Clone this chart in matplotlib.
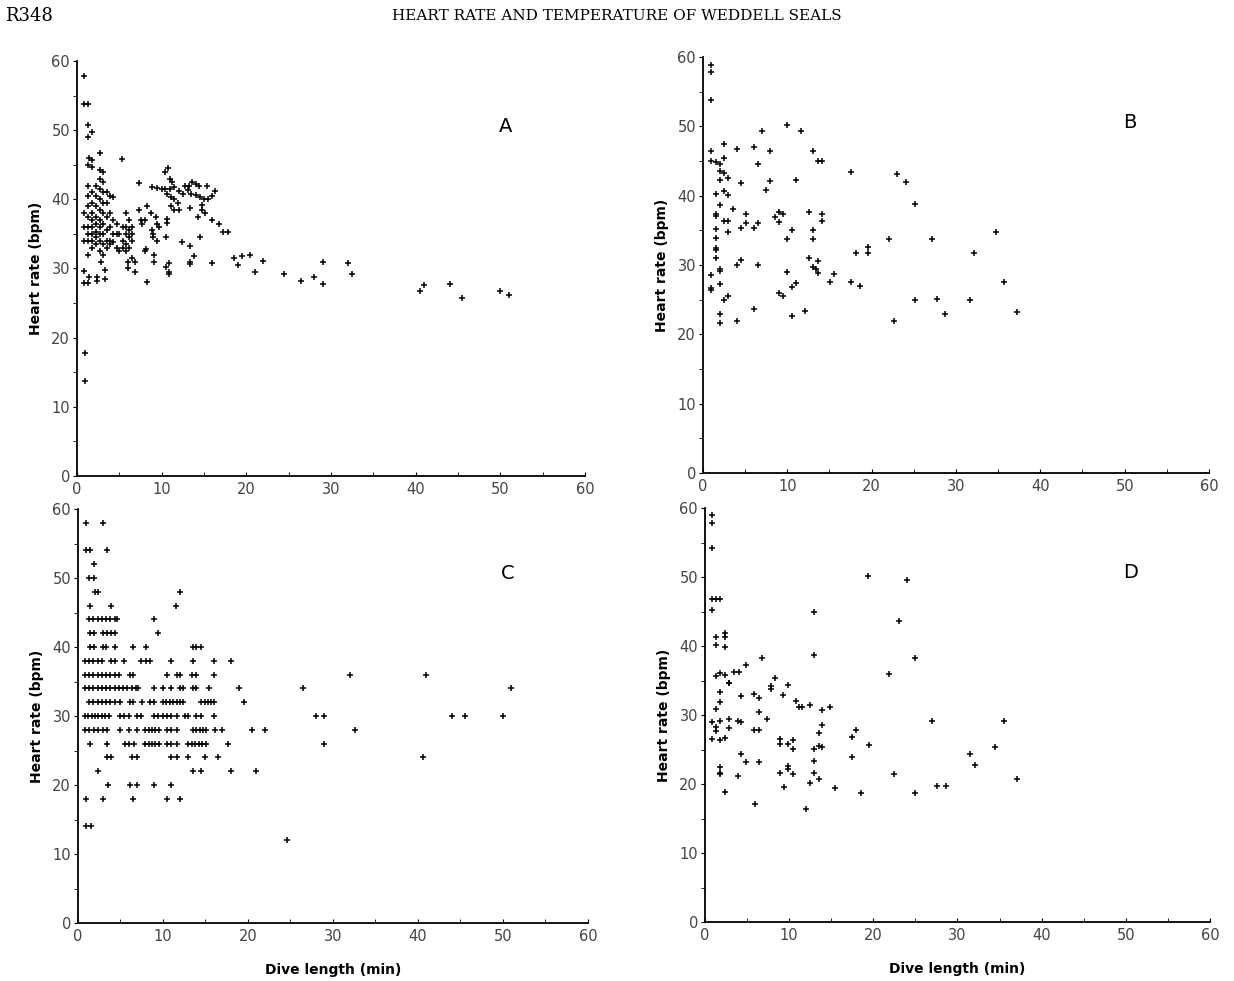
import matplotlib.pyplot as plt
from matplotlib.ticker import MultipleLocator

# Panel A: dive length (min) vs heart rate (bpm)
a_x = [0.8, 0.8, 1.3, 1.3, 1.3, 1.8, 1.4, 1.3, 1.8, 1.8, 2.7, 5.3, 7.3, 0.9, 0.9,
       0.8, 0.8, 1.3, 1.4, 2.4, 2.4, 3.3, 3.3, 1.3, 2.8,
       0.8, 0.8, 0.8, 1.3, 1.3, 1.3, 1.3, 1.3, 1.3, 1.3,
       1.8, 1.8, 1.8, 1.8, 1.8, 1.8, 1.8, 1.8,
       2.2, 2.2, 2.2, 2.2, 2.2, 2.2, 2.2, 2.2,
       2.7, 2.7, 2.7, 2.7, 2.7, 2.7, 2.7, 2.7, 2.7, 2.7,
       3.1, 3.1, 3.1, 3.1, 3.1, 3.1, 3.1, 3.1, 3.1,
       3.5, 3.5, 3.5, 3.5, 3.5, 3.5, 3.9, 3.9, 3.9, 3.9, 3.9,
       4.3, 4.3, 4.3, 4.3, 4.7, 4.7, 4.7, 5.0, 5.0, 5.4, 5.4, 5.4,
       5.8, 5.8, 5.8, 5.8, 5.8, 6.2, 6.2, 6.2, 6.2, 6.5, 6.5, 6.5, 6.5,
       6.0, 6.0, 6.8, 6.8, 7.3, 7.6, 7.7, 8.0, 8.0, 8.2, 8.3, 8.3, 8.7,
       8.9, 9.0, 9.0, 9.1, 9.1, 9.5, 9.5, 9.7, 9.3,
       8.9, 9.4, 10.0, 10.4, 10.4, 10.8, 11.0, 11.2, 11.0, 11.5, 12.0, 12.5,
       10.6, 11.1, 11.5, 11.9, 11.1, 11.5, 12.0, 10.6, 10.6, 12.7, 13.2, 13.6,
       14.0, 14.4, 15.3, 13.1, 13.5, 14.0, 14.5, 15.0, 15.5, 15.9, 16.3, 14.8,
       14.8, 15.1, 14.3, 13.3, 12.4, 13.3, 13.3, 13.3, 13.8, 14.5, 15.9, 15.9,
       16.8, 17.8, 17.3, 18.5, 19.0, 19.5, 20.4, 21.0, 22.0,
       10.5, 10.5, 10.9, 10.9, 10.9,
       24.5, 26.4, 28.0, 29.0, 29.0, 32.0, 32.5, 40.5, 41.0, 44.0, 45.5, 50.0, 51.0]
a_y = [57.9, 53.8, 53.8, 50.8, 49.0, 49.7, 46.0, 44.9, 44.7, 45.7, 46.7, 45.9, 42.3, 13.8, 17.8,
       29.7, 27.9, 27.9, 28.8, 28.7, 28.2, 29.8, 28.5, 31.9, 31.0,
       38.0, 36.0, 34.0, 42.0, 40.5, 39.0, 37.5, 36.0, 35.0, 34.0,
       41.0, 39.5, 38.0, 37.0, 36.0, 35.0, 34.0, 33.0,
       42.0, 40.5, 39.0, 37.5, 36.5, 35.3, 34.5, 33.5,
       44.3, 43.0, 41.5, 40.0, 38.5, 37.0, 36.0, 35.0, 34.0, 32.5,
       44.0, 42.5, 41.0, 39.5, 38.0, 36.5, 35.0, 33.5, 32.0,
       41.0, 39.5, 37.5, 35.5, 34.0, 33.0, 40.5, 38.0, 36.0, 34.0, 33.5,
       40.3, 37.0, 35.0, 33.8, 36.5, 35.0, 33.0, 35.0, 32.5, 36.0, 34.0, 33.0,
       38.0, 36.0, 35.0, 33.5, 32.5, 37.0, 35.5, 34.5, 33.0, 36.0, 35.0, 34.0, 31.5,
       31.0, 30.0, 31.0, 29.5, 38.5, 37.0, 36.5, 37.0, 32.6, 32.8, 39.0, 28.0, 38.0,
       35.5, 35.0, 34.5, 32.0, 31.0, 34.0, 36.5, 36.0, 37.5,
       41.8, 41.6, 41.5, 41.5, 44.0, 44.5, 43.0, 42.5, 41.5, 41.8, 41.2, 40.8,
       40.8, 40.3, 40.0, 39.5, 39.0, 38.5, 38.5, 37.2, 36.6, 42.0, 42.0, 42.5,
       42.2, 41.9, 41.9, 41.3, 40.8, 40.6, 40.3, 40.0, 40.0, 40.5, 41.2, 39.2,
       38.4, 38.0, 37.5, 38.7, 33.8, 33.2, 31.0, 30.6, 31.8, 34.5, 37.0, 30.8,
       36.4, 35.3, 35.3, 31.5, 30.5, 31.8, 32.0, 29.5, 31.1,
       34.5, 30.2, 30.8, 29.5, 29.2,
       29.2, 28.2, 28.8, 31.0, 27.7, 30.8, 29.2, 26.7, 27.6, 27.8, 25.8, 26.8, 26.2]

# Panel B
b_x = [1.0, 1.0, 0.9, 1.0, 2.5, 4.0, 6.0, 8.0, 7.0, 10.0, 11.6, 13.1, 13.6, 14.1,
       1.0, 1.5, 2.0, 2.5, 2.0, 2.5, 3.0, 2.0, 4.5, 6.5, 8.0, 7.5, 1.5, 2.5, 3.0,
       11.0, 17.5, 23.0, 24.1, 25.1, 2.0, 1.5, 1.5, 3.5, 5.1, 2.5, 3.0, 4.5, 5.1,
       6.0, 6.5, 8.5, 9.0, 9.5, 9.0, 12.6, 14.1, 14.1, 10.6, 13.1, 3.0, 1.5, 1.5,
       10.0, 13.1, 22.1, 27.1, 34.7, 1.5, 1.5, 1.5, 2.0, 2.0, 1.0, 4.0, 4.5, 6.5,
       12.6, 13.1, 13.4, 13.6, 13.6, 15.5, 15.1, 18.1, 19.6, 19.6, 10.0, 32.1,
       1.0, 1.0, 2.0, 2.5, 3.0, 9.0, 9.5, 10.6, 11.0, 17.5, 18.6, 35.7, 25.1, 27.7,
       31.7, 2.0, 2.0, 4.0, 6.0, 10.6, 12.1, 22.6, 28.7, 37.2]
b_y = [58.8, 57.8, 53.8, 46.5, 47.5, 46.8, 47.0, 46.5, 49.4, 50.2, 49.4, 46.4, 45.0, 45.0,
       45.0, 44.8, 44.6, 45.4, 43.5, 43.3, 42.6, 42.2, 41.8, 44.6, 42.1, 40.9, 40.2, 40.7, 40.1,
       42.2, 43.4, 43.1, 42.0, 38.8, 38.6, 37.4, 37.1, 38.1, 37.3, 36.4, 36.4, 35.4, 36.1,
       35.4, 36.1, 36.9, 37.6, 37.4, 36.2, 37.6, 37.4, 36.4, 35.1, 35.1, 34.7, 35.2, 33.9,
       33.8, 33.8, 33.8, 33.7, 34.7, 32.5, 32.2, 31.0, 29.4, 29.1, 28.6, 30.0, 30.8, 30.0,
       31.0, 29.7, 29.5, 30.6, 28.9, 28.7, 27.5, 31.7, 32.6, 31.7, 29.0, 31.7,
       26.7, 26.4, 27.3, 24.9, 25.5, 26.0, 25.6, 26.9, 27.4, 27.5, 27.0, 27.5, 24.9, 25.1,
       24.9, 23.0, 21.6, 22.0, 23.6, 22.6, 23.4, 22.0, 23.0, 23.3]

# Panel C (heart rate recorded in 2 bpm steps)
c_x = [0.9, 2.9,
       0.9, 1.4, 3.4,
       1.9,
       1.3, 1.9,
       2.0, 2.4, 12.0,
       1.4, 3.9, 11.5,
       1.3, 1.8, 2.3, 2.8, 3.3, 3.8, 4.3, 4.6, 8.9,
       1.4, 1.9, 2.9, 3.4, 3.9, 4.4, 9.4,
       1.4, 1.9, 2.9, 3.3, 4.4, 6.5, 8.0, 13.5, 13.9, 14.5,
       0.8, 1.3, 1.8, 2.3, 2.8, 3.9, 4.4, 5.4, 7.4, 8.0, 8.5, 11.0, 13.5, 16.0, 18.0,
       0.8, 1.3, 1.8, 2.3, 2.8, 3.3, 3.8, 4.3, 4.8, 6.1, 6.5, 10.5, 11.6, 12.0, 13.4, 13.9, 16.0,
       0.8, 1.3, 1.8, 2.3, 2.8, 3.3, 3.8, 4.3, 4.8, 5.3, 5.8, 6.3, 6.8, 7.1,
       8.9, 10.0, 11.0, 12.0, 12.4, 13.5, 13.9, 15.4, 19.0, 26.5, 51.0,
       1.3, 1.8, 2.3, 2.8, 3.3, 3.8, 4.3, 4.9, 6.1, 6.5, 7.5, 8.5, 8.9,
       10.0, 10.4, 10.8, 11.2, 11.6, 12.0, 12.4, 14.5, 14.9, 15.3, 15.7, 16.0, 19.5,
       0.8, 1.2, 1.6, 2.0, 2.4, 2.8, 3.2, 3.7, 4.9, 5.4, 6.0, 6.9, 7.4, 8.9, 9.4, 10.0,
       10.5, 11.0, 11.6, 12.6, 13.0, 13.9, 14.5, 16.0, 28.0, 29.0, 44.0, 45.5, 50.0,
       0.8, 1.3, 1.9, 2.4, 2.9, 3.4, 5.0, 6.0, 6.9, 7.9, 8.3, 8.7, 9.1, 9.5,
       10.5, 11.0, 11.6, 13.5, 13.9, 14.3, 14.7, 15.1, 16.1, 17.0, 20.5, 22.0, 32.6,
       1.4, 3.4, 5.5, 6.0, 6.6, 7.9, 8.3, 8.7, 9.1, 9.5, 10.5, 11.0, 11.6,
       13.0, 13.4, 13.8, 14.2, 14.6, 15.1, 17.6, 29.0,
       3.4, 3.9, 6.4, 6.9, 11.0, 11.6, 13.0, 15.0, 16.5, 40.6,
       2.4, 13.5, 14.5, 18.0, 21.0,
       3.5, 6.1, 7.0, 8.9, 11.0,
       1.0, 2.9, 6.5, 10.5, 12.0,
       1.0, 1.5, 24.6, 32.0, 41.0]
c_y = [58, 58,
       54, 54, 54,
       52,
       50, 50,
       48, 48, 48,
       46, 46, 46,
       44, 44, 44, 44, 44, 44, 44, 44, 44,
       42, 42, 42, 42, 42, 42, 42,
       40, 40, 40, 40, 40, 40, 40, 40, 40, 40,
       38, 38, 38, 38, 38, 38, 38, 38, 38, 38, 38, 38, 38, 38, 38,
       36, 36, 36, 36, 36, 36, 36, 36, 36, 36, 36, 36, 36, 36, 36, 36, 36,
       34, 34, 34, 34, 34, 34, 34, 34, 34, 34, 34, 34, 34, 34,
       34, 34, 34, 34, 34, 34, 34, 34, 34, 34, 34,
       32, 32, 32, 32, 32, 32, 32, 32, 32, 32, 32, 32, 32,
       32, 32, 32, 32, 32, 32, 32, 32, 32, 32, 32, 32, 32,
       30, 30, 30, 30, 30, 30, 30, 30, 30, 30, 30, 30, 30, 30, 30, 30,
       30, 30, 30, 30, 30, 30, 30, 30, 30, 30, 30, 30, 30,
       28, 28, 28, 28, 28, 28, 28, 28, 28, 28, 28, 28, 28, 28,
       28, 28, 28, 28, 28, 28, 28, 28, 28, 28, 28, 28, 28,
       26, 26, 26, 26, 26, 26, 26, 26, 26, 26, 26, 26, 26,
       26, 26, 26, 26, 26, 26, 26, 26,
       24, 24, 24, 24, 24, 24, 24, 24, 24, 24,
       22, 22, 22, 22, 22,
       20, 20, 20, 20, 20,
       18, 18, 18, 18, 18,
       14, 14, 12, 36, 36]

# Panel D
d_x = [0.8, 0.8, 0.8, 0.8, 1.3, 1.8, 0.8, 1.3, 2.4, 2.4, 2.4, 1.3,
       1.3, 1.8, 2.4, 2.85, 2.85, 3.5, 4.0, 4.9, 6.8, 8.3, 7.8, 7.8, 9.9,
       4.3, 5.8, 6.4, 9.3, 1.8, 1.8, 1.3, 0.8, 1.3, 1.3, 1.8, 2.85, 2.85,
       3.9, 4.3, 6.4, 7.4, 5.8, 6.4, 0.8, 1.8, 2.4, 10.8, 11.2, 11.5, 12.5,
       14.9, 13.9, 13.9, 13.5, 18.0, 17.5, 8.9, 8.9, 9.9, 10.4, 10.4, 12.9,
       13.5, 13.9, 19.5, 1.8, 1.8, 1.8, 4.3, 4.9, 6.4, 2.4, 3.9, 5.9, 8.9,
       9.9, 9.9, 10.4, 9.4, 12.9, 12.9, 13.5, 12.5, 12.0, 15.5, 18.5, 17.5,
       12.9, 12.9, 19.4, 24.0, 23.0, 25.0, 21.9, 22.5, 27.0, 25.0, 27.6, 28.6,
       31.5, 32.1, 34.5, 35.5, 37.1]
d_y = [59.0, 57.9, 54.2, 46.8, 46.8, 46.8, 45.2, 41.3, 41.9, 41.3, 39.8, 40.1,
       35.6, 36.1, 35.8, 34.7, 34.6, 36.3, 36.2, 37.2, 38.2, 35.3, 34.2, 33.8, 34.3,
       32.8, 33.1, 32.5, 32.9, 33.3, 31.9, 30.9, 29.0, 28.2, 27.7, 29.1, 29.5, 28.1,
       29.2, 29.0, 30.5, 29.5, 27.8, 27.8, 26.6, 26.4, 26.7, 32.1, 31.2, 31.2, 31.5,
       31.1, 30.7, 28.5, 27.4, 27.9, 26.8, 26.6, 25.8, 25.8, 26.4, 25.1, 25.1,
       25.5, 25.4, 25.6, 22.4, 21.6, 21.4, 24.3, 23.2, 23.2, 18.8, 21.1, 17.1, 21.6,
       22.6, 22.2, 21.4, 19.6, 23.4, 21.6, 20.8, 20.1, 16.4, 19.4, 18.7, 23.9,
       44.9, 38.7, 50.1, 49.6, 43.7, 38.3, 36.0, 21.5, 29.1, 18.7, 19.7, 19.7,
       24.3, 22.7, 25.4, 29.1, 20.8]

panels = [
    ("A", a_x, a_y, [0.0624, 0.5148, 0.4117, 0.4230]),
    ("B", b_x, b_y, [0.5697, 0.5178, 0.4100, 0.4240]),
    ("C", c_x, c_y, [0.0632, 0.0591, 0.4133, 0.4220]),
    ("D", d_x, d_y, [0.5713, 0.0601, 0.4092, 0.4220]),
]

fig = plt.figure(figsize=(12.34, 9.81), dpi=100)

for letter, xs, ys, pos in panels:
    ax = fig.add_axes(pos)
    ax.scatter(xs, ys, marker='+', s=24, color='black', linewidths=1.1)
    ax.set_xlim(0, 60)
    ax.set_ylim(0, 60)
    ax.xaxis.set_major_locator(MultipleLocator(10))
    ax.xaxis.set_minor_locator(MultipleLocator(5))
    ax.yaxis.set_major_locator(MultipleLocator(10))
    ax.yaxis.set_minor_locator(MultipleLocator(5))
    for side in ['top', 'right']:
        ax.spines[side].set_visible(False)
    for side in ['left', 'bottom']:
        ax.spines[side].set_linewidth(1.3)
    ax.tick_params(axis='x', which='both', direction='in', length=3, labelsize=10.5,
                   labelcolor='#444444', pad=4)
    ax.tick_params(axis='y', which='both', direction='out', length=3, labelsize=10.5,
                   labelcolor='#444444', pad=2)
    ax.set_ylabel("Heart rate (bpm)", fontsize=10, fontweight='bold', labelpad=6)
    if letter in ("C", "D"):
        ax.set_xlabel("Dive length (min)", fontsize=10, fontweight='bold', labelpad=14)
    ax.text(50.6, 50.6, letter, fontsize=14, ha='center', va='center')

fig.text(0.004, 0.984, "R348", fontsize=13, family='DejaVu Serif', ha='left', va='center')
fig.text(0.5, 0.984, "HEART RATE AND TEMPERATURE OF WEDDELL SEALS", fontsize=11,
         family='DejaVu Serif', ha='center', va='center')

fig.savefig("out.png", dpi=100, facecolor='white')
